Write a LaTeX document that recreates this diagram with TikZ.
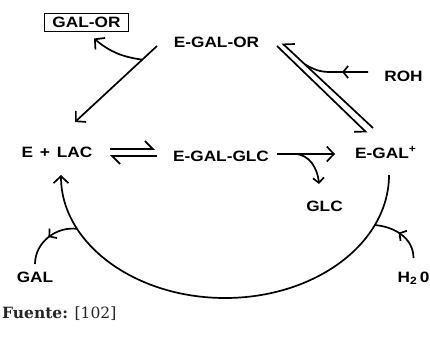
\documentclass[tikz,border=0pt]{standalone}
\usepackage{fontspec}
\usepackage{tikz}
\usetikzlibrary{arrows.meta, calc, decorations.markings}
\newfontface\lblfont[FakeStretch=1.15]{Liberation Sans Bold}
\newfontfamily\srcfont{DejaVu Serif}
\tikzset{
	species/.style={font=\lblfont\fontsize{15}{17}\selectfont, inner sep=2pt},
	prodbox/.style={species, draw=black, line width=1.2pt, inner xsep=8pt, inner ysep=3.5pt},
	rxn/.style={line width=1.7pt, -{Straight Barb[length=7pt, width=15pt]}},
	harp/.style={line width=1.7pt, -{Straight Barb[#1, length=8pt, width=16pt]}},
	midarrow/.style={line width=1.7pt, postaction={decorate},
		decoration={markings, mark=at position #1 with {\arrow{Straight Barb[length=5pt, width=12pt, line width=1.7pt]}}}},
}

\begin{document}
\begin{tikzpicture}[x=1pt, y=1pt]
	\useasboundingbox (0,0) rectangle (430,-337);
	% species
	\node[prodbox] (galor) at (86.5,-22.5) {GAL-OR};
	\node[species] (egalor) at (216.5,-42) {E-GAL-OR};
	\node[species] (elac) at (57,-152.5) {E\hspace{0.45em}+\hspace{0.45em}LAC};
	\node[species] (egalglc) at (221,-156) {E-GAL-GLC};
	\node[species, anchor=base west] (egal) at (353,-158) {E-GAL\textsuperscript{+}};
	\node[species] (roh) at (403.5,-76) {ROH};
	\node[species] (glc) at (324.5,-206) {GLC};
	\node[species] (gal) at (35,-277.5) {GAL};
	\node[species, anchor=base] (h2o) at (413.5,-282) {H\textsubscript{2}\,0};
	\node[anchor=base west, inner sep=0pt, text=black!85,
		font=\srcfont\fontsize{15.5}{18}\selectfont] (src) at (2,-318) {\textbf{Fuente:} [102]};

	% transglycosylation
	\draw[rxn] ($(egalor)+(-59.5,-4)$) -- ($(elac)+(18,30.5)$) coordinate[pos=0.18] (brk);
	\draw[rxn] (brk) to[out=172,in=-40] ($(galor)+(7.5,-16)$);

	% E-GAL-OR <=> E-GAL+
	\draw[harp=right] ($(egal.base west)+(20,30)$) -- ($(egalor)+(65.5,-1)$) coordinate[pos=0.75] (rj);
	\draw[harp=right] ($(egalor)+(60.5,-4)$) -- ($(egal.base west)+(14,25)$);
	\draw[midarrow=26pt] ($(roh)+(-35.5,4)$) -- ++(-38,0) to[out=180,in=-30] (rj);

	% E + LAC <=> E-GAL-GLC -> E-GAL+
	\draw[harp=left] ($(elac)+(53,3.5)$) -- ($(elac)+(98,3.5)$);
	\draw[harp=left] ($(elac)+(100,-3.5)$) -- ($(elac)+(53,-3.5)$);
	\draw[rxn] ($(egalglc)+(56,2)$) -- ($(egal.base west)+(-18,4)$) coordinate[pos=0.3] (gj);
	\draw[rxn, -{Straight Barb[length=5pt, width=11pt]}] (gj) to[out=0,in=95] ($(glc)+(-5.5,22)$);

	% hydrolysis cycle
	\coordinate (ctr) at ($(egalglc)+(4,-19)$);
	\draw[rxn] ($(ctr)+(164,0)$) arc[start angle=0, end angle=-180, x radius=164, y radius=123];
	\draw[midarrow=0.5] ($(ctr)+(-154:164 and 123)$) to[out=172,in=90] ($(gal)+(0,13.5)$);
	\draw[midarrow=0.55] ($(h2o.base)+(0,24)$) to[out=90,in=-5] ($(ctr)+(-24:164 and 123)$);
\end{tikzpicture}
\end{document}
